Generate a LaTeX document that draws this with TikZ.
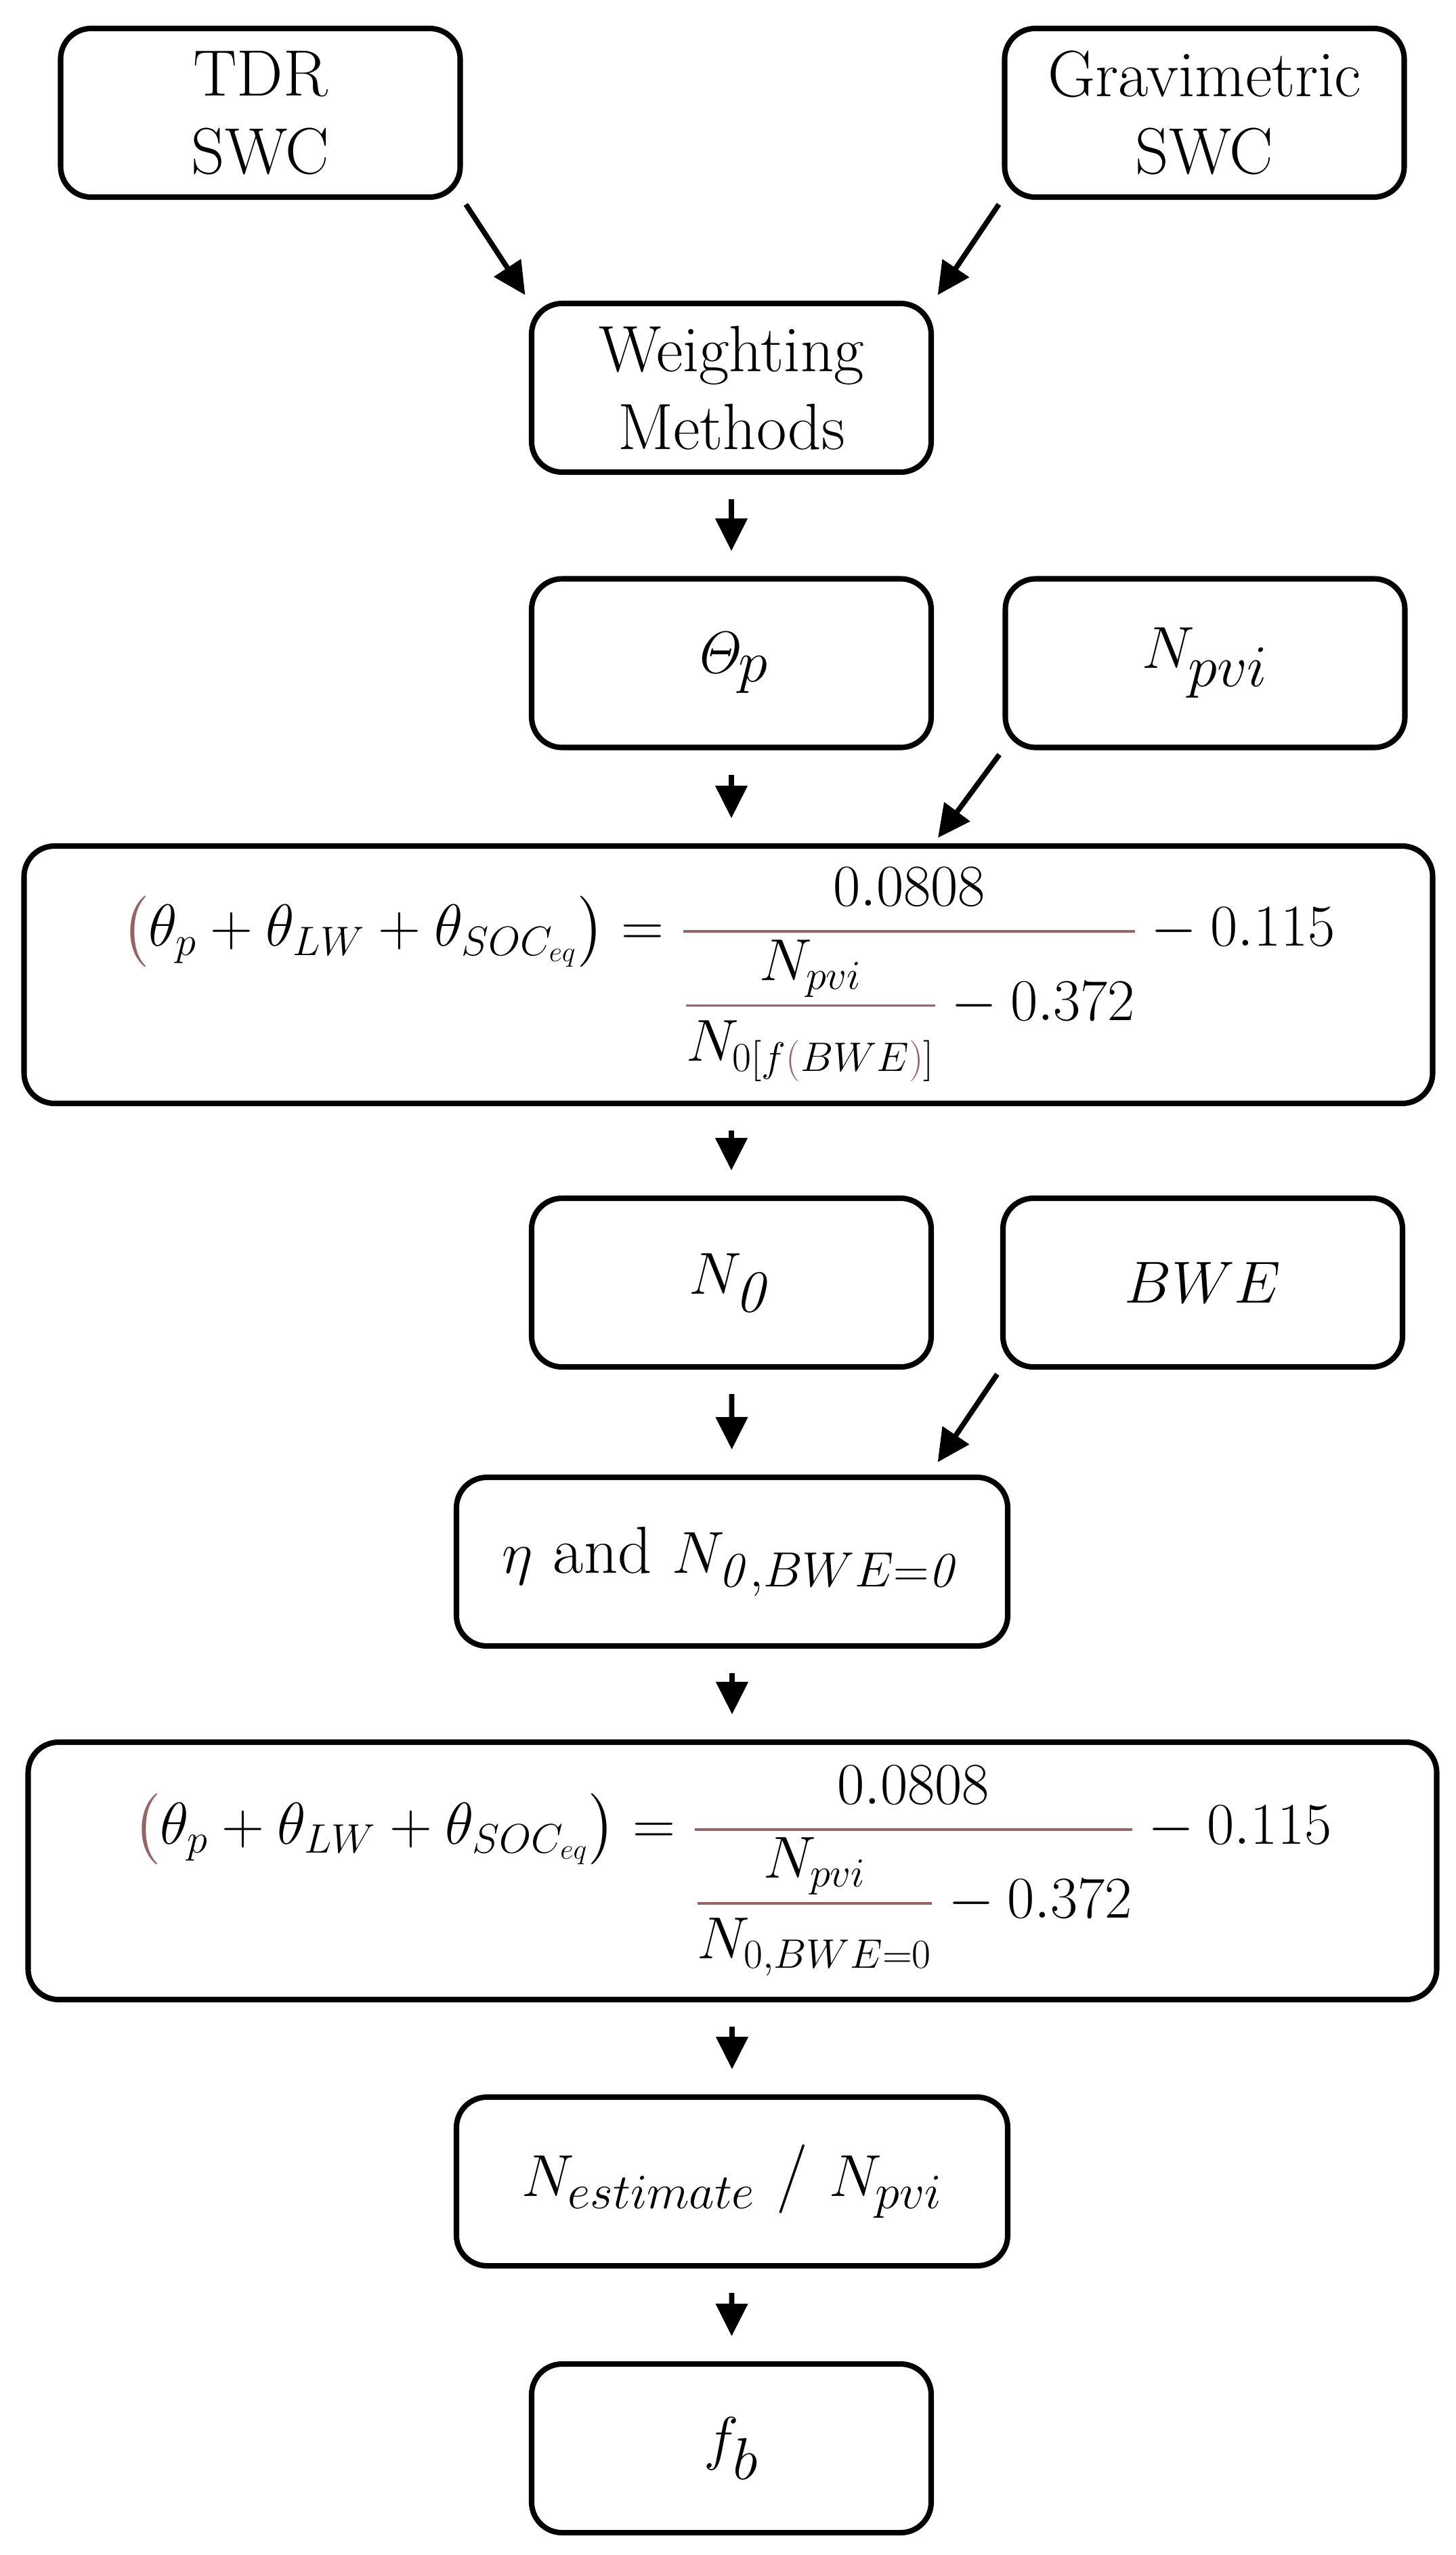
\documentclass[tikz,border=0pt]{standalone}
\usepackage{amsmath}
\usetikzlibrary{arrows.meta,calc}
\definecolor{eqbrown}{RGB}{150,100,100}
\newcommand{\bp}[1]{{\color{eqbrown}#1}}
\newcommand{\brfrac}[2]{{\color{eqbrown}\dfrac{\color{black}#1}{\color{black}#2}}}
\begin{document}
\begin{tikzpicture}[
  box/.style={draw, line width=2.3pt, rounded corners=0.45cm, align=center, inner sep=0pt},
  sbox/.style={box, minimum width=5.9cm, minimum height=2.49cm},
  wbox/.style={box, minimum width=8.14cm, minimum height=2.49cm},
  ebox/.style={box, minimum width=20.8cm, minimum height=3.8cm},
  arr/.style={line width=2.2pt, -{Triangle[length=0.48cm,width=0.46cm]}},
  down/.style={arr, shorten <=0.36cm, shorten >=0.37cm},
  diag/.style={arr, shorten <=0.08cm, shorten >=0.1cm},
  lab/.style={font=\fontsize{27.5}{32.7}\selectfont},
  eqf/.style={font=\fontsize{25.5}{30}\selectfont}
]
\useasboundingbox (0,0) rectangle (21.49,-37.72);
\node[sbox,lab] (tdr) at (3.845,-1.665) {TDR\\SWC};
\node[sbox,lab] (grav) at (17.785,-1.665) {Gravimetric\\SWC};
\node[sbox,lab] (wm) at (10.80,-5.725) {Weighting\\Methods};
\node[sbox,font=\fontsize{34}{38}\selectfont] (th) at (10.80,-9.79) {$\mathit{\Theta}_{p}$};
\node[sbox,font=\fontsize{34}{38}\selectfont] (np) at (17.795,-9.79) {$N_{pvi}$};
\node[ebox,eqf] (eq1) at (10.755,-14.39) {$\bp{\left(\color{black}\theta_p+\theta_{LW}+\theta_{SOC_{eq}}\right)}=\brfrac{0.0808}{\brfrac{N_{pvi}}{N_{0[f\bp{(}BWE\bp{)}]}}-0.372}-0.115$};
\node[sbox,font=\fontsize{40}{44}\selectfont] (n0) at (10.80,-18.935) {$N_{\mathit{0}}$};
\node[sbox,font=\fontsize{39}{44}\selectfont] (bwe) at (17.76,-18.935) {$BWE$};
\node[wbox,font=\fontsize{28}{32}\selectfont] (eta) at (10.81,-23.055) {$\eta$ and $N_{\mathit{0},BWE=\mathit{0}}$};
\node[ebox,eqf] (eq2) at (10.815,-27.62) {$\bp{\left(\color{black}\theta_p+\theta_{LW}+\theta_{SOC_{eq}}\right)}=\brfrac{0.0808}{\brfrac{N_{pvi}}{N_{0,BWE=0}}-0.372}-0.115$};
\node[wbox,font=\fontsize{29}{33}\selectfont] (nest) at (10.81,-32.205) {$N_{estimate}$ / $N_{pvi}$};
\node[sbox,font=\fontsize{56}{60}\selectfont] (fb) at (10.80,-36.145) {$f_{b}$};
\draw[diag] (tdr.south east) -- (wm.north west);
\draw[diag] (grav.south west) -- (wm.north east);
\draw[down] (wm) -- (th);
\draw[down] (th) -- (eq1.north -| th);
\draw[diag] (np.south west) -- (th.east |- eq1.north);
\draw[down] (eq1.south -| n0) -- (n0);
\draw[down] (n0) -- (eta);
\draw[diag] (bwe.south west) -- ($(n0.east |- eta.north)+(0,0.1)$);
\draw[down] (eta) -- (eq2.north -| eta);
\draw[down] (eq2.south -| nest) -- (nest);
\draw[down] (nest) -- (fb);
\end{tikzpicture}
\end{document}
